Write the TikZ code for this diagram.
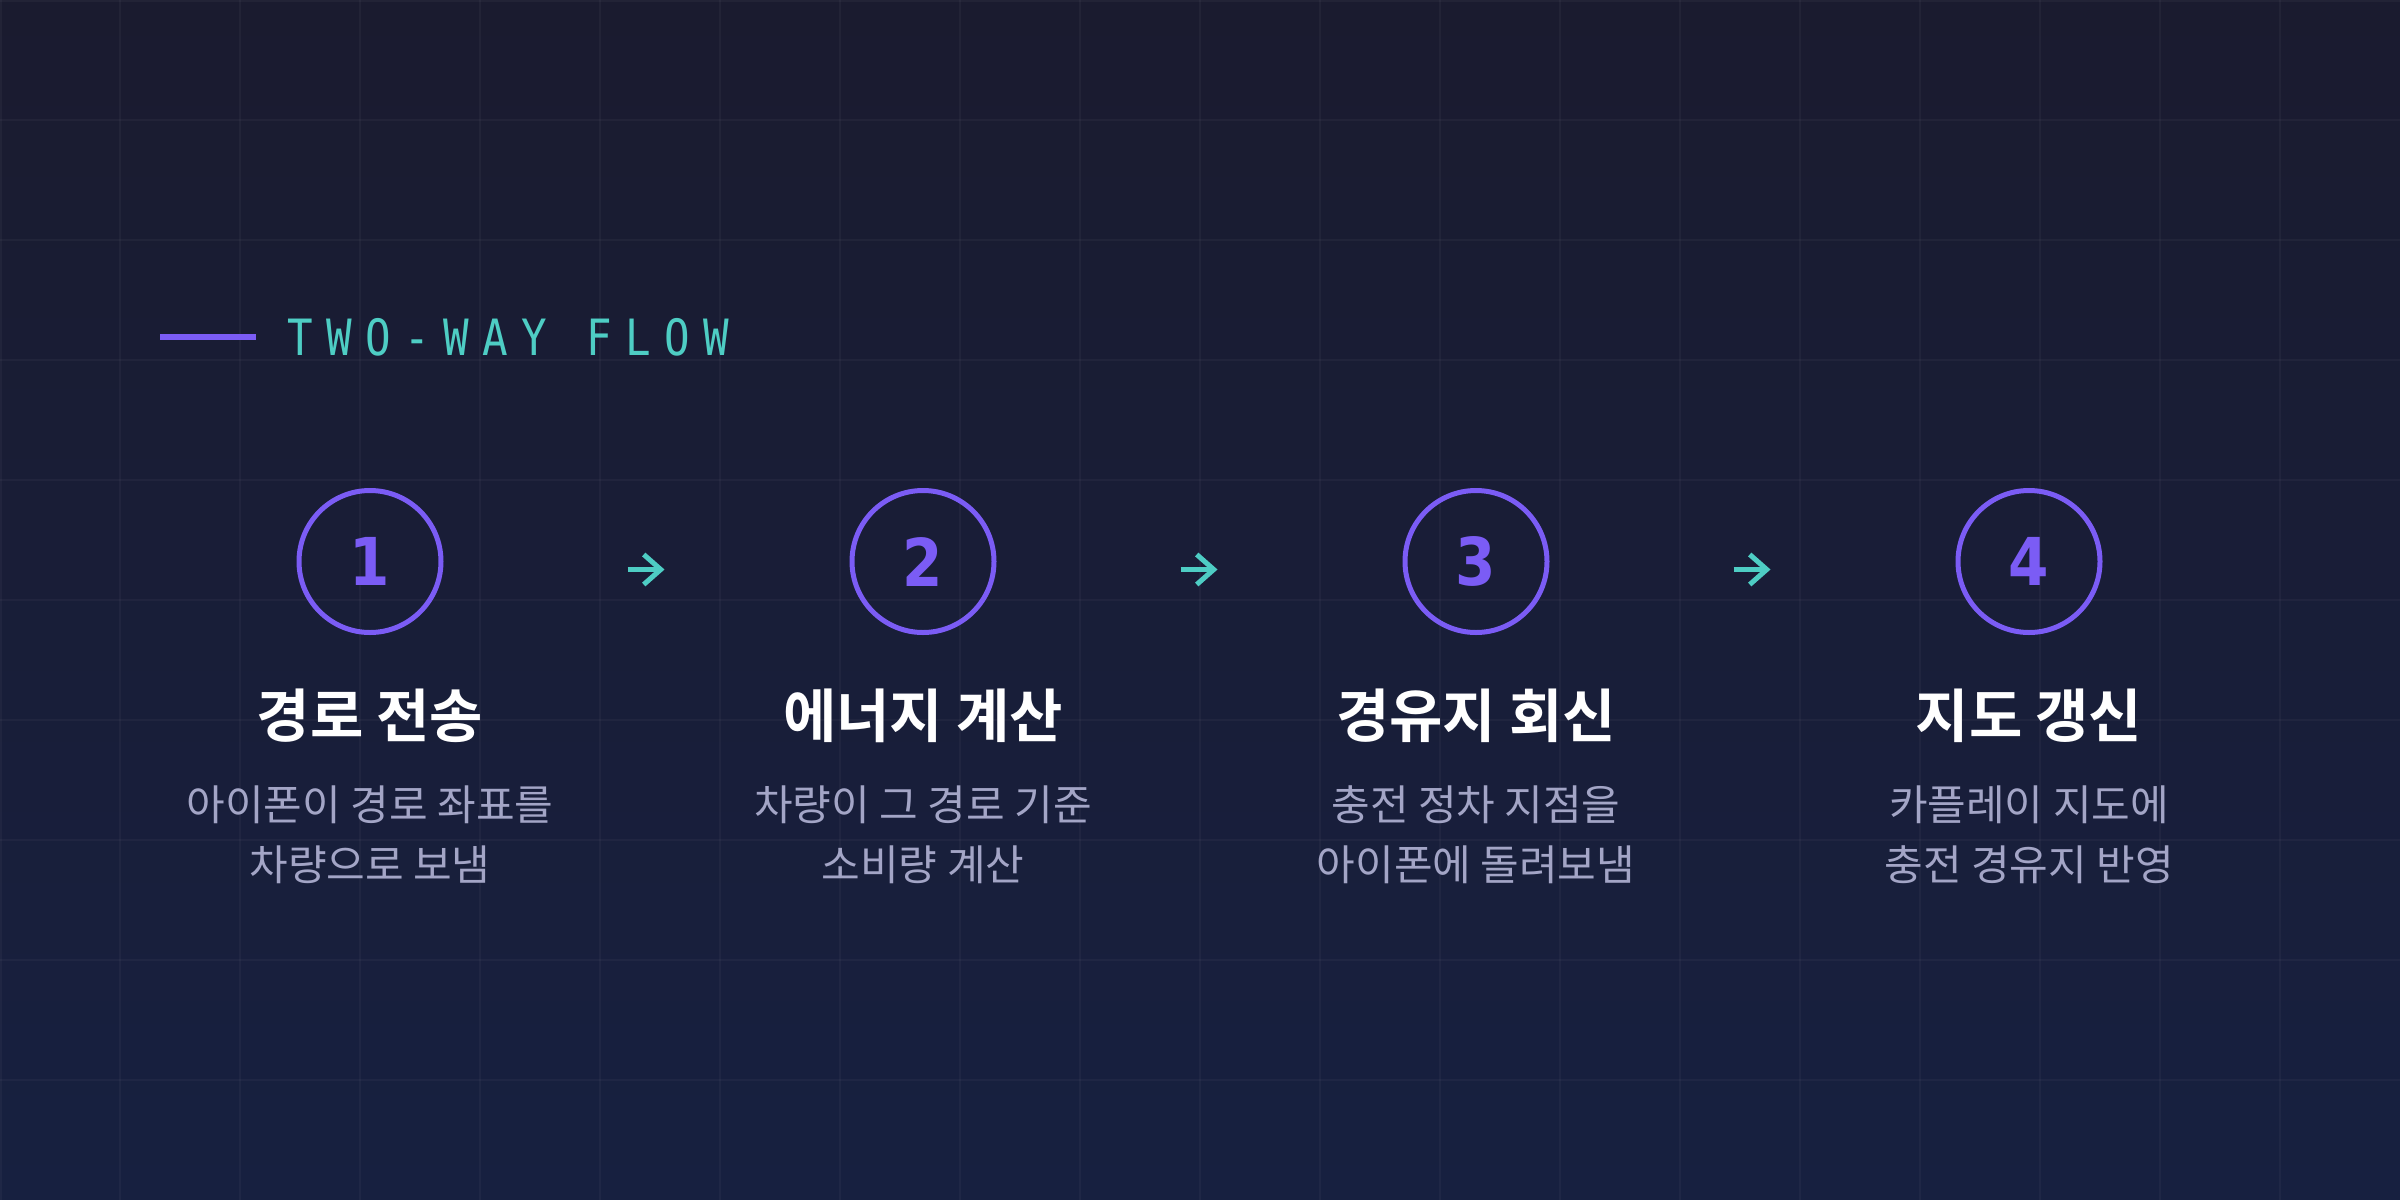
\documentclass[tikz,border=0pt]{standalone}
\usepackage{fontspec}
\setmainfont{DejaVu Sans}
\newfontfamily\krfont{Noto Sans CJK KR}
\newfontfamily\krbold{Noto Sans CJK KR Bold}
\newfontfamily\monofont[LetterSpace=27,FakeStretch=0.85]{DejaVu Sans Mono}
\newfontfamily\numfont[FakeStretch=0.88]{DejaVu Sans}
\usetikzlibrary{arrows.meta}
\definecolor{bgtop}{HTML}{1A1B2F}
\definecolor{bgbot}{HTML}{172040}
\definecolor{accent}{HTML}{7B5CF5}
\definecolor{teal}{HTML}{4ECDC4}
\definecolor{subgray}{HTML}{A3A5C6}
\tikzset{
  stepcircle/.style={circle, draw=accent, line width=2.5pt, minimum size=71pt, inner sep=0pt,
    text=accent, font=\numfont\bfseries\fontsize{33pt}{33pt}\selectfont},
  heading/.style={text=white, font=\krbold\fontsize{29pt}{32pt}\selectfont, inner sep=0pt},
  subtext/.style={text=subgray, align=center, font=\krfont\fontsize{21pt}{30pt}\selectfont, inner sep=0pt},
  flowarrow/.style={draw=teal, line width=2.5pt, shorten <=92pt, shorten >=92.5pt,
    -{Straight Barb[length=8.5pt,width=15pt,line width=2.5pt]}},
  gridline/.style={draw=white, draw opacity=0.035, line width=0.75pt}
}
\begin{document}
\begin{tikzpicture}[x=0.5pt,y=-0.5pt]
\useasboundingbox (0,0) rectangle (2400,1200);
\shade[top color=bgtop, bottom color=bgbot] (0,0) rectangle (2400,1200);
\foreach \gx in {120,240,...,2280} \draw[gridline] (\gx,0) -- (\gx,1200);
\foreach \gy in {120,240,...,1080} \draw[gridline] (0,\gy) -- (2400,\gy);
\draw[gridline] (0,1) -- (2400,1);
\draw[gridline] (1,0) -- (1,1200);
% title
\coordinate (tl1) at (160,337);
\coordinate (tl2) at (256,337);
\draw[accent, line width=3pt] (tl1) -- (tl2);
\node[anchor=base west, inner sep=0pt, text=teal, font=\monofont\fontsize{25pt}{26pt}\selectfont] (title) at (287,355) {TWO-WAY FLOW};
% steps
\node[stepcircle] (c1) at (370,561.5) {1};
\node[stepcircle] (c2) at (923,561.5) {2};
\node[stepcircle] (c3) at (1476,561.5) {3};
\node[stepcircle] (c4) at (2029,561.5) {4};
\draw[flowarrow] ([yshift=-4pt]c1.east) -- ([yshift=-4pt]c2.west);
\draw[flowarrow] ([yshift=-4pt]c2.east) -- ([yshift=-4pt]c3.west);
\draw[flowarrow] ([yshift=-4pt]c3.east) -- ([yshift=-4pt]c4.west);
\node[heading] (h1) at (370,716) {경로 전송};
\node[heading] (h2) at (923,716) {에너지 계산};
\node[heading] (h3) at (1476,716) {경유지 회신};
\node[heading] (h4) at (2029,716) {지도 갱신};
\node[subtext] (s1) at (370,835) {아이폰이 경로 좌표를\\차량으로 보냄};
\node[subtext] (s2) at (923,835) {차량이 그 경로 기준\\소비량 계산};
\node[subtext] (s3) at (1476,835) {충전 정차 지점을\\아이폰에 돌려보냄};
\node[subtext] (s4) at (2029,835) {카플레이 지도에\\충전 경유지 반영};
\end{tikzpicture}
\end{document}
